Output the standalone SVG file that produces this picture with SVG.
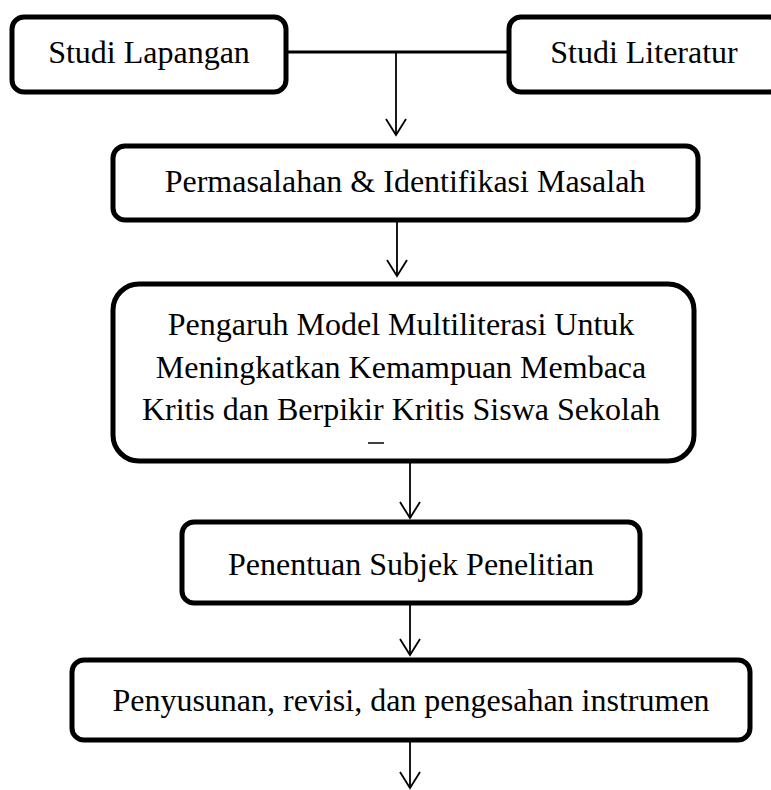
<svg xmlns="http://www.w3.org/2000/svg" width="771" height="790" viewBox="0 0 771 790">
  <style>
    .box { fill: #ffffff; stroke: #000000; stroke-width: 5; }
    .lbl { font-family: "Liberation Serif", "Times New Roman", serif; font-size: 32px; fill: #000000; text-anchor: middle; }
    .ln { fill: none; stroke: #000000; stroke-width: 1.8; }
    .head { fill: none; stroke: #000000; stroke-width: 1.8; stroke-linejoin: miter; }
  </style>
  <rect width="771" height="790" fill="#ffffff"/>

  <g id="connectors">
    <line class="ln" x1="286" y1="52" x2="509" y2="52" style="stroke-width:3"/>
    <line class="ln" x1="396" y1="52" x2="396" y2="135"/>
    <path class="head" d="M386,119 L396,135 L406,119"/>
    <line class="ln" x1="397" y1="220" x2="397" y2="276"/>
    <path class="head" d="M387,260 L397,276 L407,260"/>
    <line class="ln" x1="410" y1="461" x2="410" y2="518"/>
    <path class="head" d="M400,502 L410,518 L420,502"/>
    <line class="ln" x1="410" y1="603" x2="410" y2="655"/>
    <path class="head" d="M400,639 L410,655 L420,639"/>
    <line class="ln" x1="410" y1="740" x2="410" y2="788"/>
    <path class="head" d="M400,772 L410,788 L420,772"/>
  </g>

  <g id="studi-lapangan">
    <rect class="box" x="12" y="17" width="274" height="75" rx="12"/>
    <text class="lbl" x="149" y="63">Studi Lapangan</text>
  </g>

  <g id="studi-literatur">
    <rect class="box" x="509" y="17" width="272" height="75" rx="12"/>
    <text class="lbl" x="644" y="63">Studi Literatur</text>
  </g>

  <g id="permasalahan">
    <rect class="box" x="113" y="146" width="585" height="74" rx="12"/>
    <text class="lbl" x="405" y="192">Permasalahan &amp; Identifikasi Masalah</text>
  </g>

  <g id="pengaruh">
    <rect class="box" x="113" y="284" width="581" height="177" rx="26"/>
    <text class="lbl" x="401" y="335">Pengaruh Model Multiliterasi Untuk</text>
    <text class="lbl" x="401" y="378">Meningkatkan Kemampuan Membaca</text>
    <text class="lbl" x="401" y="420">Kritis dan Berpikir Kritis Siswa Sekolah</text>
    <line x1="368" y1="443" x2="384" y2="443" stroke="#000000" stroke-width="1.5"/>
  </g>

  <g id="penentuan">
    <rect class="box" x="182" y="522" width="458" height="81" rx="12"/>
    <text class="lbl" x="411" y="575">Penentuan Subjek Penelitian</text>
  </g>

  <g id="penyusunan">
    <rect class="box" x="72" y="660" width="678" height="80" rx="12"/>
    <text class="lbl" x="411" y="711">Penyusunan, revisi, dan pengesahan instrumen</text>
  </g>
</svg>
